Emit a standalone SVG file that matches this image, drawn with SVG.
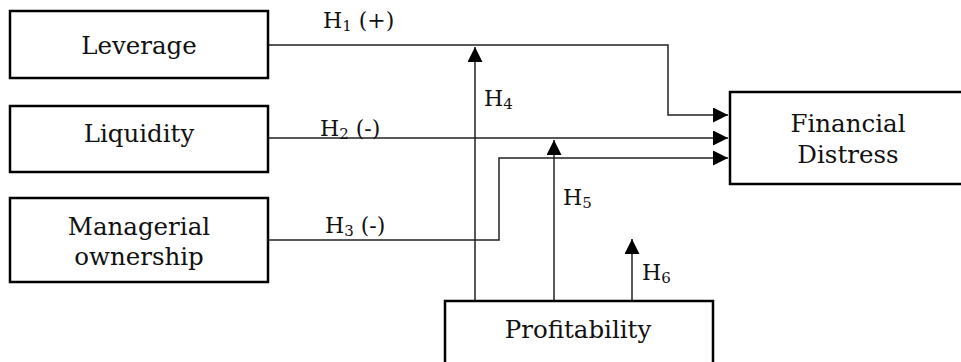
<svg xmlns="http://www.w3.org/2000/svg" width="961" height="362" viewBox="0 0 961 362">
<style>
.box{fill:#fff;stroke:#000;stroke-width:2.5}
.t{font-family:"DejaVu Serif","Liberation Serif",serif;font-size:24.5px;fill:#111;text-anchor:middle}
.l{font-family:"DejaVu Serif","Liberation Serif",serif;font-size:22px;fill:#111}
.s{font-size:15px}
.c{fill:none;stroke:#222;stroke-width:1.5}
</style>
<defs>
<marker id="ah" markerUnits="userSpaceOnUse" markerWidth="16" markerHeight="15" refX="15" refY="7.5" orient="auto">
<path d="M0,0 L15,7.5 L0,15 z" fill="#000"/>
</marker>
</defs>
<rect width="961" height="362" fill="#fff"/>
<g id="connectors">
<path class="c" d="M268,45 H668 V115 H728" marker-end="url(#ah)"/>
<path class="c" d="M268,138 H728" marker-end="url(#ah)"/>
<path class="c" d="M268,240 H499 V158 H728" marker-end="url(#ah)"/>
<path class="c" d="M475,301 V47" marker-end="url(#ah)"/>
<path class="c" d="M554,301 V140" marker-end="url(#ah)"/>
<path class="c" d="M632,301 V239" marker-end="url(#ah)"/>
<text class="l" x="323" y="28">H<tspan class="s" dy="3">1</tspan><tspan dy="-3"> (+)</tspan></text>
<text class="l" x="320" y="136">H<tspan class="s" dy="3">2</tspan><tspan dy="-3"> (-)</tspan></text>
<text class="l" x="325" y="233">H<tspan class="s" dy="3">3</tspan><tspan dy="-3"> (-)</tspan></text>
<text class="l" x="484" y="106">H<tspan class="s" dy="3">4</tspan></text>
<text class="l" x="563" y="205">H<tspan class="s" dy="3">5</tspan></text>
<text class="l" x="642" y="280">H<tspan class="s" dy="3">6</tspan></text>
</g>
<g id="leverage">
<rect class="box" x="10" y="11" width="258" height="67"/>
<text class="t" x="139" y="54">Leverage</text>
</g>
<g id="liquidity">
<rect class="box" x="10" y="106" width="258" height="66"/>
<text class="t" x="139" y="142">Liquidity</text>
</g>
<g id="managerial">
<rect class="box" x="10" y="198" width="258" height="84"/>
<text class="t" x="139" y="235">Managerial</text>
<text class="t" x="139" y="265">ownership</text>
</g>
<g id="financial">
<rect class="box" x="730" y="92" width="240" height="92"/>
<text class="t" x="848" y="132">Financial</text>
<text class="t" x="848" y="163">Distress</text>
</g>
<g id="profitability">
<rect class="box" x="445" y="301" width="268" height="70"/>
<text class="t" x="578" y="338">Profitability</text>
</g>
</svg>
